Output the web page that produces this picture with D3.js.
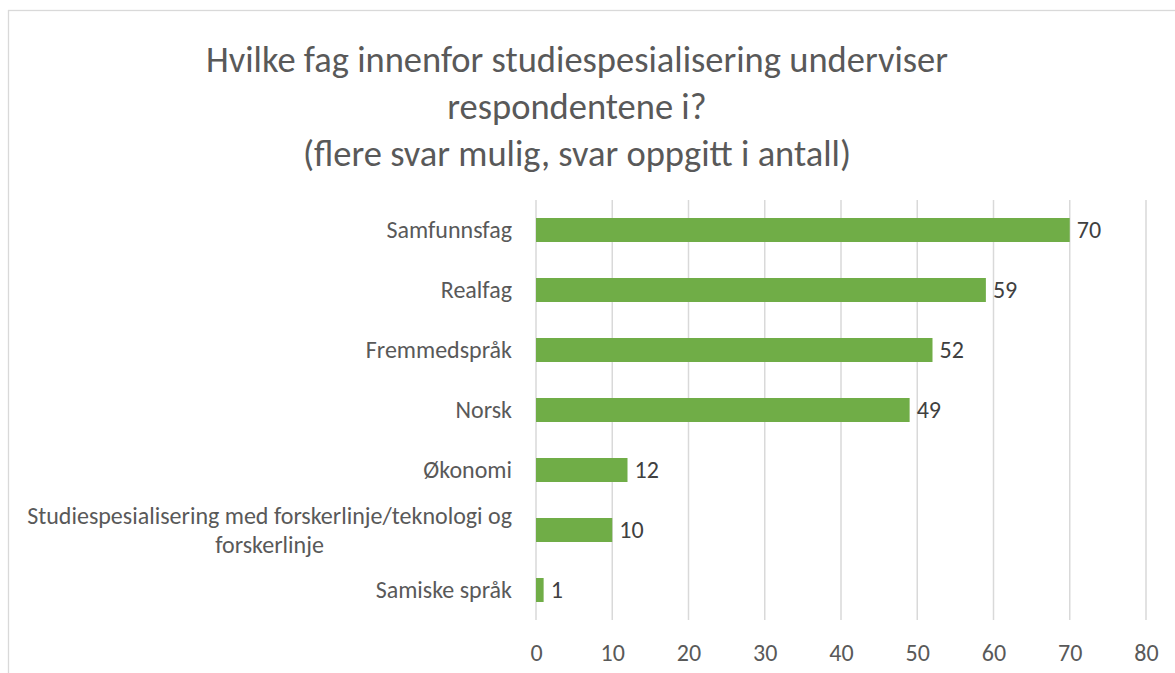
<!DOCTYPE html>
<html>
    <head>
        <meta charset="utf-8">
        <script src="https://d3js.org/d3.v7.min.js"></script>
        <style>
            body { margin: 0; background: #fff; }
            svg text { font-family: Carlito, Calibri, Lato, sans-serif; }
        </style>
    </head>
    <body>
        <svg id="chart" width="1175" height="673"></svg>
        <script>
            // chart data
            const titleLines = ["Hvilke fag innenfor studiespesialisering underviser",
                                "respondentene i?",
                                "(flere svar mulig, svar oppgitt i antall)"];
            const categories = ["Samfunnsfag", "Realfag", "Fremmedspråk", "Norsk", "Økonomi",
                                "Studiespesialisering med forskerlinje/teknologi og forskerlinje",
                                "Samiske språk"];
            const values = [70, 59, 52, 49, 12, 10, 1];
            const xTicks = [0, 10, 20, 30, 40, 50, 60, 70, 80];

            const svg = d3.select("#chart");
            const plotLeft = 536, plotRight = 1146, plotTop = 200, plotBottom = 620;
            const fs = "24px";

            // chart frame
            svg.append("rect")
                .attr("x", 8.5).attr("y", 10.5)
                .attr("width", 1200).attr("height", 700)
                .attr("fill", "#fff")
                .attr("stroke", "#d9d9d9")
                .attr("stroke-width", 1.3);

            // title
            const title = svg.append("text")
                .attr("text-anchor", "middle")
                .attr("fill", "#595959")
                .style("font-size", "36.5px");
            titleLines.forEach((t, i) => {
                title.append("tspan")
                    .attr("x", 577)
                    .attr("y", 72 + i * 47)
                    .text(t);
            });

            const x = d3.scaleLinear().domain([0, 80]).range([plotLeft, plotRight]);
            const y = d3.scaleBand().domain(categories).range([plotTop, plotBottom])
                .paddingInner(0.6).paddingOuter(0.3);

            // gridlines
            svg.append("g")
                .selectAll("line")
                .data(xTicks)
                .join("line")
                .attr("x1", d => x(d)).attr("x2", d => x(d))
                .attr("y1", plotTop).attr("y2", plotBottom)
                .attr("stroke", "#d9d9d9")
                .attr("stroke-width", 1.5);

            // x axis labels
            const xAxis = svg.append("g")
                .attr("transform", `translate(0,${plotBottom})`)
                .call(d3.axisBottom(x).tickValues(xTicks).tickSize(0).tickPadding(24));
            xAxis.select(".domain").remove();
            xAxis.selectAll("text")
                .attr("fill", "#595959")
                .style("font-size", fs)
                .style("font-family", "Carlito, Calibri, Lato, sans-serif");

            // bars
            svg.append("g")
                .selectAll("rect")
                .data(values)
                .join("rect")
                .attr("x", x(0))
                .attr("y", (d, i) => y(categories[i]))
                .attr("width", d => x(d) - x(0))
                .attr("height", y.bandwidth())
                .attr("fill", "#70ad47");

            // value labels
            svg.append("g")
                .selectAll("text")
                .data(values)
                .join("text")
                .attr("x", d => x(d) + 7)
                .attr("y", (d, i) => y(categories[i]) + y.bandwidth() / 2 + 8)
                .attr("fill", "#404040")
                .style("font-size", fs)
                .text(d => d);

            // category labels, wrapped when too long
            const labelRight = plotLeft - 24, maxW = 500;
            categories.forEach(c => {
                const cy = y(c) + y.bandwidth() / 2;
                const t = svg.append("text")
                    .attr("fill", "#595959")
                    .style("font-size", fs);
                const words = c.split(" ");
                let lines = [], line = [];
                let probe = t.append("tspan");
                for (let w of words) {
                    line.push(w);
                    probe.text(line.join(" "));
                    if (probe.node().getComputedTextLength() > maxW && line.length > 1) {
                        line.pop();
                        lines.push(line.join(" "));
                        line = [w];
                    }
                }
                lines.push(line.join(" "));
                probe.remove();
                if (lines.length == 1) {
                    t.attr("text-anchor", "end")
                        .attr("x", labelRight)
                        .attr("y", cy + 8)
                        .text(c);
                } else {
                    let widths = lines.map(l => {
                        let s = t.append("tspan").text(l);
                        let w = s.node().getComputedTextLength();
                        s.remove();
                        return w;
                    });
                    let cx = labelRight - d3.max(widths) / 2;
                    let lh = 29;
                    let y0 = cy + 8 - (lines.length - 1) * lh / 2;
                    t.attr("text-anchor", "middle");
                    lines.forEach((l, i) => {
                        t.append("tspan").attr("x", cx).attr("y", y0 + i * lh).text(l);
                    });
                }
            });
        </script>
    </body>
</html>
